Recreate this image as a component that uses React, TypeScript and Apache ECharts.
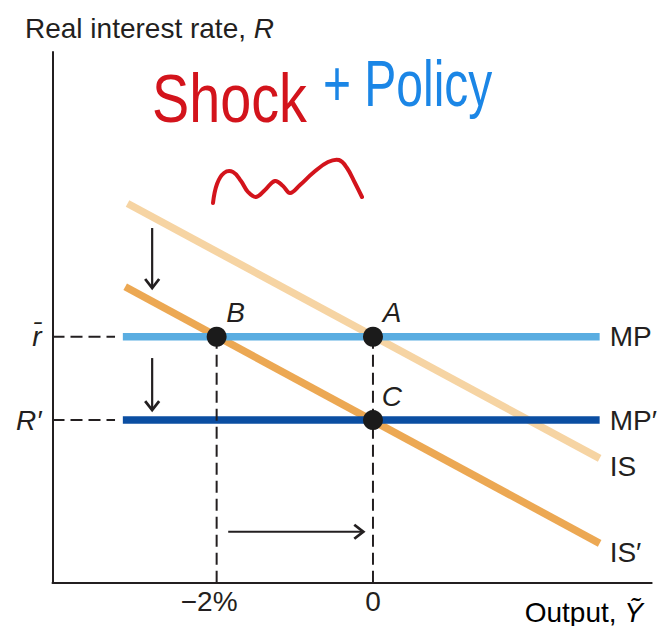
import React, { useEffect, useRef } from 'react';
import * as echarts from 'echarts';

// Axis extent: output gap (%) and real interest rate (%)
const xRange = [-4.1, 3.566];
const yRange = [-0.95, 5.418];

const xTickValues = [-2, 0];
const xTickLabels = ['−2%', '0'];
const yTickValues = [1, 2];
const yTickLabels = ['R′', 'r̄'];

const isCurve = [[-3.14, 3.6], [2.9, 0.54]];
const isPrimeCurve = [[-3.17, 2.6], [2.9, -0.48]];
const mpCurve = [[-3.2, 2], [2.9, 2]];
const mpPrimeCurve = [[-3.2, 1], [2.9, 1]];

const pointNames = ['A', 'B', 'C'];
const pointX = [0, -2, 0];
const pointY = [2, 2, 1];

const guideLines = [
  [[-4.1, 2], [-3.3, 2]],
  [[-4.1, 1], [-3.3, 1]],
  [[-2, 2], [-2, -0.95]],
  [[0, 2], [0, -0.95]],
];

const arrowStart = [[-2.825, 3.305], [-2.825, 1.744], [-1.852, -0.341]];
const arrowEnd = [[-2.825, 2.585], [-2.825, 1.12], [-0.124, -0.341]];

const squiggle = [
  [213, 203], [217, 184], [224, 173], [233, 172], [241, 181], [248, 192], [256, 197],
  [265, 190], [275, 181], [283, 186], [290, 193], [300, 185], [314, 172], [328, 162],
  [339, 160], [347, 168], [355, 183], [362, 197],
];

const INK = '#231f20';
const FONT = '"Liberation Sans", Arial, sans-serif';

export default function App() {
  const ref = useRef<HTMLDivElement>(null);
  useEffect(() => {
    document.body.style.margin = '0';
    document.body.style.overflow = 'hidden';
    const chart = echarts.init(ref.current!, null, { renderer: 'svg' });

    const lineSeries = (name: string, data: number[][], color: string, label: string, offset: number[], z: number) => ({
      type: 'line',
      name,
      data,
      symbol: 'none',
      z,
      lineStyle: { color, width: 7.5, cap: 'butt' },
      endLabel: {
        show: true,
        formatter: label,
        distance: 10,
        offset,
        fontSize: 28,
        color: INK,
        fontFamily: FONT,
      },
    });

    const guideSeries = guideLines.map((seg) => ({
      type: 'line',
      data: seg,
      symbol: 'none',
      z: 6,
      lineStyle: { color: INK, width: 2, type: [12, 6] },
    }));

    const option = {
      animation: false,
      grid: { left: 52.5, right: 13.3, top: 52, bottom: 43.5, containLabel: false },
      xAxis: {
        type: 'value',
        min: xRange[0],
        max: xRange[1],
        splitLine: { show: false },
        axisTick: { show: false },
        axisLine: { onZero: false, lineStyle: { color: INK, width: 2 } },
        axisLabel: {
          customValues: xTickValues,
          margin: 5,
          fontSize: 28,
          color: INK,
          fontFamily: FONT,
          formatter: (v: number) => {
            const i = xTickValues.findIndex((t) => Math.abs(t - v) < 1e-6);
            if (i < 0) return '';
            return i === 0 ? '{m|' + xTickLabels[i] + '}' : xTickLabels[i];
          },
          rich: { m: { fontSize: 28, color: INK, fontFamily: FONT, padding: [0, 15, 0, 0] } },
        },
      },
      yAxis: {
        type: 'value',
        min: yRange[0],
        max: yRange[1],
        splitLine: { show: false },
        axisTick: { show: false },
        axisLine: { onZero: false, lineStyle: { color: INK, width: 2 } },
        axisLabel: {
          customValues: yTickValues,
          margin: 11,
          fontSize: 28,
          fontStyle: 'italic',
          color: INK,
          fontFamily: FONT,
          formatter: (v: number) => {
            const i = yTickValues.findIndex((t) => Math.abs(t - v) < 1e-6);
            return i < 0 ? '' : yTickLabels[i];
          },
        },
      },
      series: [
        lineSeries('IS', isCurve, '#f6d4a3', 'IS', [0, 8], 2),
        lineSeries("IS'", isPrimeCurve, '#eca853', 'IS′', [0, 9], 3),
        lineSeries('MP', mpCurve, '#5aade1', 'MP', [0, 0], 4),
        lineSeries("MP'", mpPrimeCurve, '#0b4ea2', 'MP′', [0, 0], 5),
        ...guideSeries,
        {
          type: 'custom',
          z: 7,
          encode: { x: [0, 2], y: [1, 3] },
          data: arrowStart.map((s, i) => [s[0], s[1], arrowEnd[i][0], arrowEnd[i][1]]),
          renderItem: (_p: any, api: any) => {
            const p1 = api.coord([api.value(0), api.value(1)]);
            const p2 = api.coord([api.value(2), api.value(3)]);
            const dx = p2[0] - p1[0];
            const dy = p2[1] - p1[1];
            const len = Math.hypot(dx, dy) || 1;
            const ux = dx / len;
            const uy = dy / len;
            const hl = 9;
            const hw = 7;
            const bx = p2[0] - ux * hl;
            const by = p2[1] - uy * hl;
            return {
              type: 'group',
              children: [
                {
                  type: 'line',
                  shape: { x1: p1[0], y1: p1[1], x2: p2[0] - ux * 1.5, y2: p2[1] - uy * 1.5 },
                  style: { stroke: INK, lineWidth: 2.2 },
                },
                {
                  type: 'polyline',
                  shape: { points: [[bx - uy * hw, by + ux * hw], [p2[0], p2[1]], [bx + uy * hw, by - ux * hw]] },
                  style: { stroke: INK, lineWidth: 2.8, fill: 'none', lineJoin: 'miter' },
                },
              ],
            };
          },
        },
        {
          type: 'scatter',
          z: 8,
          symbolSize: 20,
          itemStyle: { color: '#1b1b1b', opacity: 1 },
          data: pointNames.map((n, i) => ({ name: n, value: [pointX[i], pointY[i]] })),
          label: {
            show: true,
            position: 'inside',
            formatter: '{b}',
            offset: [19, -24],
            fontSize: 28,
            fontStyle: 'italic',
            color: INK,
            fontFamily: FONT,
          },
        },
      ],
      graphic: [
        {
          type: 'text',
          x: 25,
          y: 28,
          style: {
            text: '{a|Real interest rate, }{b|R}',
            verticalAlign: 'middle',
            align: 'left',
            rich: {
              a: { fontSize: 28, fontFamily: FONT, fill: INK, color: INK },
              b: { fontSize: 28, fontFamily: FONT, fontStyle: 'italic', fill: INK, color: INK },
            },
          },
        },
        {
          type: 'text',
          x: 643,
          y: 612,
          style: {
            text: '{a|Output, }{b|Ỹ}',
            verticalAlign: 'middle',
            align: 'right',
            rich: {
              a: { fontSize: 28, fontFamily: FONT, color: INK },
              b: { fontSize: 28, fontFamily: FONT, fontStyle: 'italic', color: INK },
            },
          },
        },
        {
          type: 'text',
          x: 152,
          y: 98,
          scaleX: 0.82,
          style: {
            text: 'Shock',
            fontSize: 68,
            fontFamily: FONT,
            fill: '#d3141c',
            verticalAlign: 'middle',
            align: 'left',
          },
        },
        {
          type: 'text',
          x: 323,
          y: 84,
          scaleX: 0.75,
          style: {
            text: '+ Policy',
            fontSize: 64,
            fontFamily: FONT,
            fill: '#1b86e6',
            verticalAlign: 'middle',
            align: 'left',
          },
        },
        {
          type: 'polyline',
          shape: { points: squiggle, smooth: 0.4 },
          style: { stroke: '#d3141c', lineWidth: 4, fill: 'none', lineCap: 'round', lineJoin: 'round' },
        },
      ],
    };

    chart.setOption(option as any);
    return () => chart.dispose();
  }, []);
  return <div ref={ref} style={{ width: 665, height: 626 }} />;
}
